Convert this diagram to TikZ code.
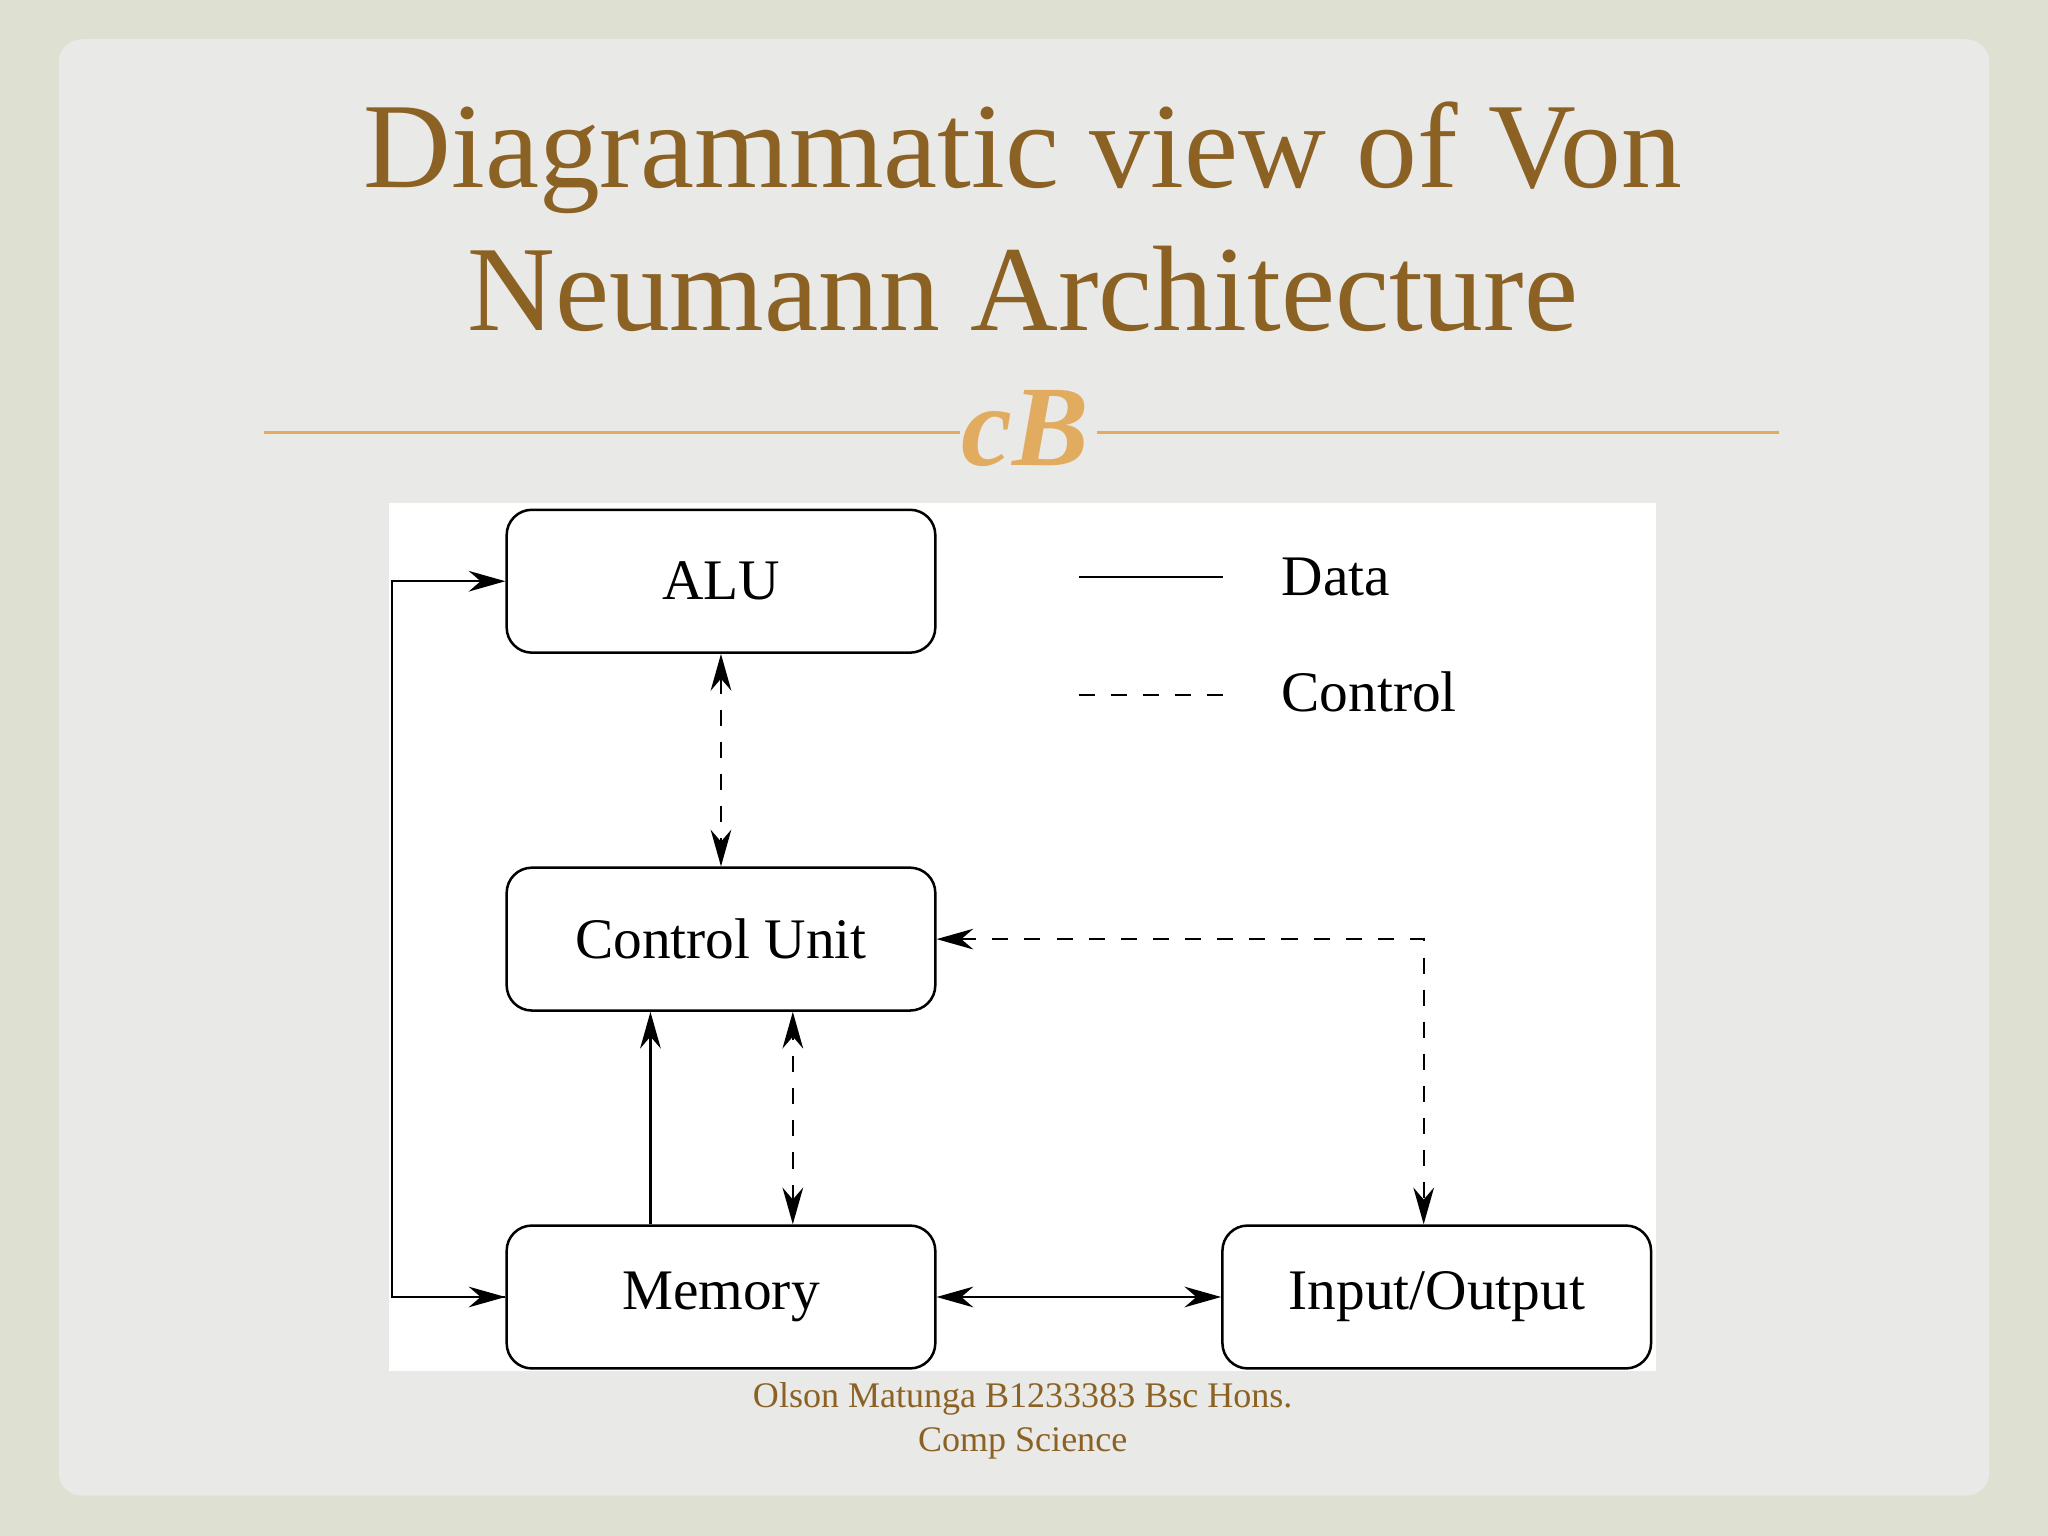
\documentclass[tikz,border=0pt]{standalone}
\usepackage{fontspec}
\setmainfont{Liberation Serif}
\usetikzlibrary{arrows.meta}
\definecolor{bgout}{RGB}{222,224,210}
\definecolor{bgin}{RGB}{233,233,231}
\definecolor{titlec}{RGB}{139,98,36}
\definecolor{linec}{RGB}{226,172,96}
\tikzset{
 box/.style={draw,line width=1.1pt,rounded corners=11pt,minimum width=9.3cm*0.7059,minimum height=3.1cm*0.7059,font=\fontsize{25}{30}\selectfont,inner sep=0pt},
 con/.style={line width=1pt,-{Stealth[length=16pt,width=9pt]}},
 bi/.style={line width=1pt,{Stealth[length=16pt,width=9pt]}-{Stealth[length=16pt,width=9pt]}},
 dsh/.style={dash pattern=on 7pt off 7pt},
}
\begin{document}
\begin{tikzpicture}[x=0.02cm,y=-0.02cm]
\fill[bgout] (0,0) rectangle (1568,1176);
\fill[bgin,rounded corners=10pt] (45,30) rectangle (1523,1145);
\useasboundingbox (0,0) rectangle (1568,1176);
\node[titlec,font=\fontsize{53}{62}\selectfont,align=center] (title) at (783,166) {Diagrammatic view of Von\\Neumann Architecture};
\draw[linec,line width=1.2pt] (202,331) -- (735,331) (840,331) -- (1362,331);
\node[linec,font=\fontsize{50}{50}\selectfont\itshape\bfseries] (orn) at (785,328) {cB};
\fill[white] (298,385) rectangle (1268,1050);
\node[box] (alu) at (552,445) {ALU};
\node[box] (cu) at (552,719) {Control Unit};
\node[box] (mem) at (552,993) {Memory};
\node[box] (io) at (1100,993) {Input/Output};
\coordinate (l1) at (826,442); \coordinate (l2) at (936,442);
\coordinate (l3) at (826,532); \coordinate (l4) at (936,532);
\draw[line width=1pt] (l1) -- (l2);
\draw[line width=1pt,dsh] (l3) -- (l4);
\node[anchor=west,font=\fontsize{25}{30}\selectfont] (data) at (975,442) {Data};
\node[anchor=west,font=\fontsize{25}{30}\selectfont] (ctl) at (975,530) {Control};
\coordinate (lp) at (300,993);
\draw[con] (mem.west) -- (lp) |- (alu.west);
\draw[con] (lp) -- (mem.west);
\draw[bi,dsh] (alu.south) -- (cu.north);
\draw[con] (mem.north -| 498,0) -- (cu.south -| 498,0);
\draw[bi,dsh] (mem.north -| 607,0) -- (cu.south -| 607,0);
\draw[bi,dsh] (cu.east) -| (io.north -| 1090,0);
\draw[bi] (mem.east) -- (io.west);
\node[titlec,font=\fontsize{15.7}{19}\selectfont,align=center] (foot) at (783,1088) {Olson Matunga B1233383 Bsc Hons.\\Comp Science};
\end{tikzpicture}
\end{document}
